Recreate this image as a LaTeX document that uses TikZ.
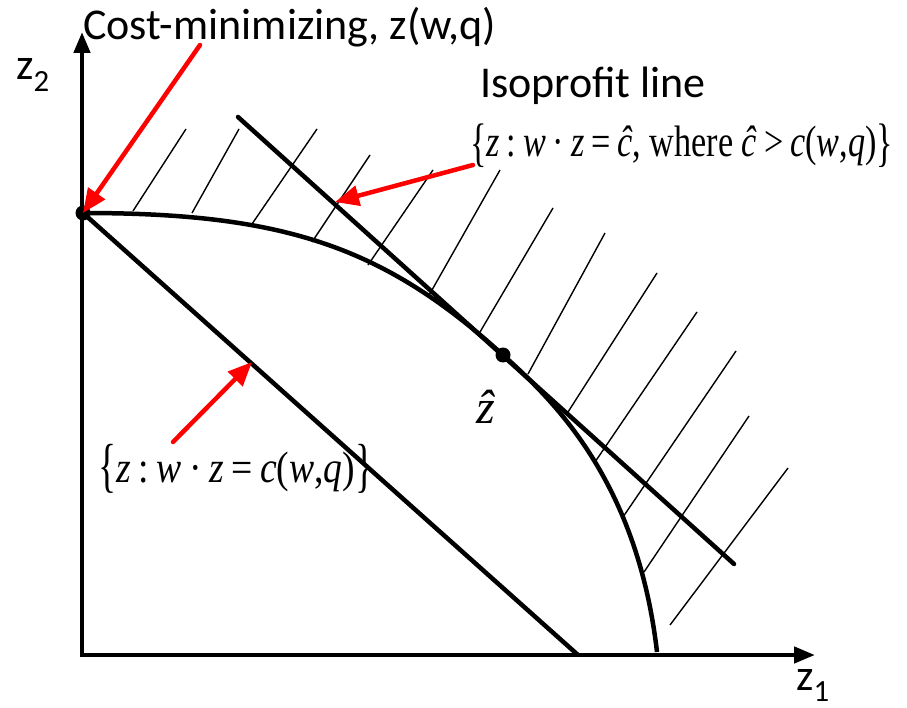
\documentclass[tikz,border=0pt]{standalone}
\usepackage{fontspec}
\usepackage{graphicx}
\setmainfont{Liberation Serif}
\newfontfamily\calibfont{Carlito}
\usetikzlibrary{arrows.meta}
\newcommand\gapp{\hspace{0.2em}}
\newcommand\brL[1]{\raisebox{-0.08em}{\scalebox{1}[#1]{\{}}}
\newcommand\brR[1]{\raisebox{-0.08em}{\scalebox{1}[#1]{\}}}}
\begin{document}
\begin{tikzpicture}[x=1pt,y=-1pt,
  thickline/.style={line width=4.5pt},
  hatch/.style={line width=1.4pt},
  axis/.style={line width=4.5pt,line cap=rect,-{Triangle[length=21pt,width=16pt]}},
  redarrow/.style={draw=red,line width=4.5pt,line cap=round,-{Triangle[length=24pt,width=20pt]}},
  lab/.style={font=\calibfont\fontsize{44}{52}\selectfont,inner sep=0pt,anchor=base west},
  mathlab/.style={font=\fontsize{44}{52}\selectfont,inner sep=0pt,anchor=base west},
  dot/.style={circle,fill=black,inner sep=0pt,minimum size=15pt}]
\useasboundingbox (0,0) rectangle (907,708);
% axes
\coordinate (O) at (82,655);
\coordinate (Ytop) at (82,32);
\coordinate (Xend) at (815,655);
\draw[axis] (O) -- (Ytop);
\draw[axis] (O) -- (Xend);
% hatch lines
\foreach \ax/\ay/\bx/\by in {133/211/186/129, 192/213/239/129, 252/224/317/129,
  312/242/370/155, 368/265/433/170, 428/297/500/170, 480/332/553/208,
  528/374/605/233, 568/412/657/273, 595/462/697/312, 623/517/736/351,
  644/572/749/416, 670/625/788/468}
  \draw[hatch] (\ax,\ay) -- (\bx,\by);
% dots
\node[dot] (A) at (83,213) {};
\node[dot] (Z) at (503,355) {};
% curve
\coordinate (Cend) at (657,652);
\draw[thickline] (A.center) .. controls (283,213) and (383,246) .. (Z.center)
  .. controls (553,400) and (637,480) .. (Cend);
% isocost line
\coordinate (Q) at (578,655);
\draw[thickline] (A.center) -- (Q);
% isoprofit line
\coordinate (P1) at (238,117);
\coordinate (P2) at (734,564);
\draw[thickline,line cap=round] (P1) -- (P2);
% labels
\node[lab] (costlab) at (83,40) {Cost-minimizing, z(w,q)};
\node[lab] (isolab) at (480,98) {Isoprofit line};
\node[lab] (z2) at (16,80) {z\textsubscript{2}};
\node[lab] (z1) at (796,690) {z\textsubscript{1}};
\node[mathlab] (topf) at (470,157) {\resizebox{423pt}{\height}{\brL{1.2}\textit{z}\gapp:\gapp\textit{w}\gapp·\gapp\textit{z}\gapp=\gapp\textit{\^c}, where \textit{\^c}\gapp>\gapp\textit{c}(\textit{w},\textit{q})\brR{1.2}}};
\node[mathlab] (botf) at (98,482) {\resizebox{275pt}{\height}{\brL{1.35}\textit{z}\gapp:\gapp\textit{w}\gapp·\gapp\textit{z}\gapp=\gapp\textit{c}(\textit{w},\textit{q})\brR{1.35}}};
\node[mathlab,font=\fontsize{48}{56}\selectfont] (zhat) at (476,423) {\textit{\^z}};
% red arrows
\coordinate (r1s) at (200,45);
\coordinate (r2s) at (473,165);
\coordinate (r2e) at (335,202);
\coordinate (r3s) at (173,442);
\coordinate (r3e) at (252,362);
\draw[redarrow] (r1s) -- (A.center);
\draw[redarrow] (r2s) -- (r2e);
\draw[redarrow] (r3s) -- (r3e);
\end{tikzpicture}
\end{document}
